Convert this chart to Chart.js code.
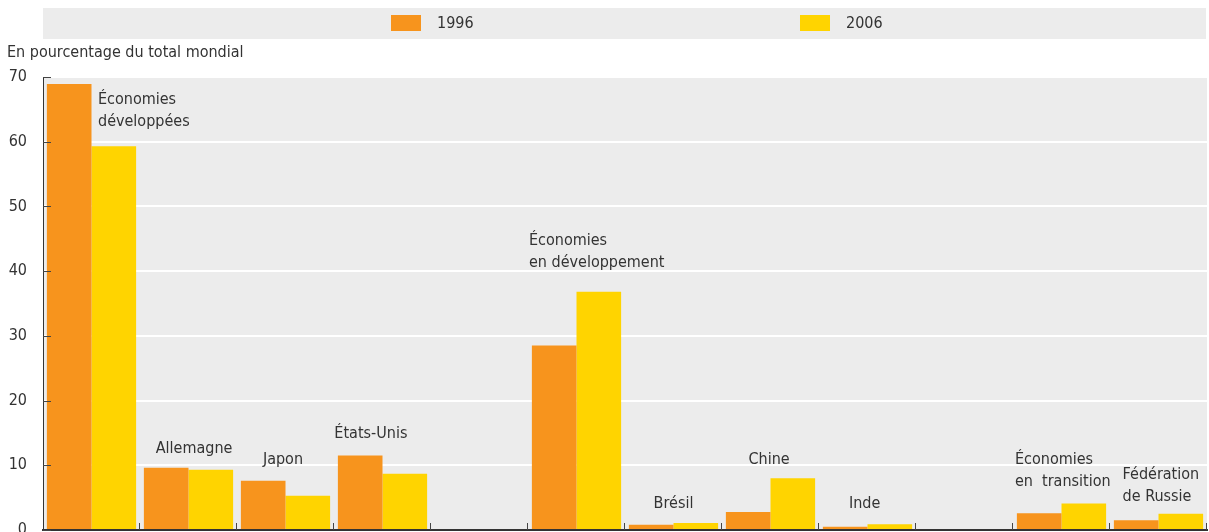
<!DOCTYPE html>
<html lang="fr">
<head>
  <meta charset="UTF-8">
  <title>Part du total mondial</title>
  <style>
    body { margin: 0; background: #fff; overflow: hidden; }
    canvas { display: block; }
  </style>
</head>
<body>
  <canvas id="chart" width="1209" height="532"></canvas>

  <script src="https://cdn.jsdelivr.net/npm/chart.js"></script>
  <script>
    // data
    const categories = ['Économies développées', 'Allemagne', 'Japon', 'États-Unis', '',
      'Économies en développement', 'Brésil', 'Chine', 'Inde', '',
      'Économies en transition', 'Fédération de Russie'];
    const series = ['1996', '2006'];
    const values1996 = [68.9, 9.6, 7.6, 11.5, null, 28.5, 0.8, 2.8, 0.5, null, 2.6, 1.5];
    const values2006 = [59.3, 9.3, 5.3, 8.7, null, 36.8, 1.1, 8.0, 0.9, null, 4.1, 2.5];
    const yTicks = [0, 10, 20, 30, 40, 50, 60, 70];
    const yTitle = 'En pourcentage du total mondial';

    // category labels as written above the bars
    const labelLines = [
      ['Économies', 'développées'], ['Allemagne'], ['Japon'], ['États-Unis'], [],
      ['Économies', 'en développement'], ['Brésil'], ['Chine'], ['Inde'], [],
      ['Économies', 'en  transition'], ['Fédération', 'de Russie']
    ];
    // where each label sits: dx in slot widths from category centre, v in axis units
    const labelPlace = [
      { align: 'left', dx: 0.067, v: 66.4 },
      { align: 'center', dx: 0.057, v: 12.6 },
      { align: 'center', dx: -0.026, v: 10.9 },
      { align: 'center', dx: -0.12, v: 14.9 },
      null,
      { align: 'left', dx: -0.49, v: 44.7 },
      { align: 'center', dx: 0, v: 4.1 },
      { align: 'center', dx: -0.015, v: 10.9 },
      { align: 'center', dx: -0.03, v: 4.1 },
      null,
      { align: 'left', dx: -0.48, v: 10.9 },
      { align: 'left', dx: -0.37, v: 8.6 }
    ];

    const ORANGE = '#F7941D';
    const YELLOW = '#FFD400';
    const TEXT = '#333333';
    const PANEL = '#ECECEC';
    const FONT = "'Liberation Sans Narrow', 'Arial Narrow', 'DejaVu Sans Condensed', sans-serif";
    const FONT_SIZE = 16;

    const decor = {
      id: 'decor',
      beforeDraw(chart) {
        const { ctx, chartArea: a } = chart;
        ctx.save();
        // plot panel
        ctx.fillStyle = PANEL;
        ctx.fillRect(a.left, a.top, a.right - a.left, a.bottom - a.top);
        // legend band
        ctx.fillRect(43, 8, 1163, 31);
        const items = [{ x: 391, c: ORANGE, t: series[0] }, { x: 800, c: YELLOW, t: series[1] }];
        ctx.font = FONT_SIZE + 'px ' + FONT;
        ctx.textBaseline = 'middle';
        ctx.textAlign = 'left';
        items.forEach(it => {
          ctx.fillStyle = it.c;
          ctx.fillRect(it.x, 15, 30, 16);
          ctx.fillStyle = TEXT;
          ctx.fillText(it.t, it.x + 46, 24);
        });
        // axis title
        ctx.fillText(yTitle, 7, 53);
        ctx.restore();
      },
      afterDraw(chart) {
        const { ctx, chartArea: a } = chart;
        const xs = chart.scales.x, ys = chart.scales.y;
        ctx.save();
        ctx.strokeStyle = '#444';
        ctx.lineWidth = 1;
        // inward ticks on the value axis
        yTicks.forEach(v => {
          const y = Math.round(ys.getPixelForValue(v)) + 0.5;
          ctx.beginPath();
          ctx.moveTo(a.left, y);
          ctx.lineTo(a.left + 8, y);
          ctx.stroke();
        });
        // ticks between categories
        const slot = (a.right - a.left) / categories.length;
        for (let i = 1; i <= categories.length; i++) {
          const x = Math.round(a.left + i * slot) - 0.5;
          ctx.beginPath();
          ctx.moveTo(x, a.bottom);
          ctx.lineTo(x, a.bottom - 7);
          ctx.stroke();
        }
        // labels over the bars
        ctx.fillStyle = TEXT;
        ctx.font = FONT_SIZE + 'px ' + FONT;
        ctx.textBaseline = 'middle';
        labelLines.forEach((lines, i) => {
          const p = labelPlace[i];
          if (!p) return;
          const x = xs.getPixelForValue(i) + p.dx * slot;
          const y0 = ys.getPixelForValue(p.v);
          ctx.textAlign = p.align;
          lines.forEach((ln, k) => ctx.fillText(ln, x, y0 + k * 22));
        });
        ctx.restore();
      }
    };

    new Chart(document.getElementById('chart'), {
      type: 'bar',
      data: {
        labels: categories,
        datasets: [
          { label: series[0], data: values1996, backgroundColor: ORANGE, borderWidth: 0,
            categoryPercentage: 0.92, barPercentage: 1 },
          { label: series[1], data: values2006, backgroundColor: YELLOW, borderWidth: 0,
            categoryPercentage: 0.92, barPercentage: 1 }
        ]
      },
      options: {
        responsive: false,
        animation: false,
        layout: { padding: { top: 77, right: 2, bottom: 2, left: 0 } },
        plugins: { legend: { display: false }, tooltip: { enabled: false } },
        scales: {
          x: {
            afterFit(s) { s.height = 0; s.paddingLeft = 0; s.paddingRight = 0; },
            ticks: { display: false },
            grid: { display: false, drawTicks: false },
            border: { color: '#333', width: 2 }
          },
          y: {
            min: 0, max: 70,
            afterFit(s) { s.width = 43; s.paddingTop = 0; s.paddingBottom = 0; },
            afterBuildTicks(s) { s.ticks = yTicks.map(v => ({ value: v })); },
            ticks: { color: TEXT, padding: 16, font: { family: FONT, size: FONT_SIZE } },
            grid: { color: '#fff', lineWidth: 2, drawTicks: false },
            border: { color: '#333', width: 1 }
          }
        }
      },
      plugins: [decor]
    });
  </script>
</body>
</html>
